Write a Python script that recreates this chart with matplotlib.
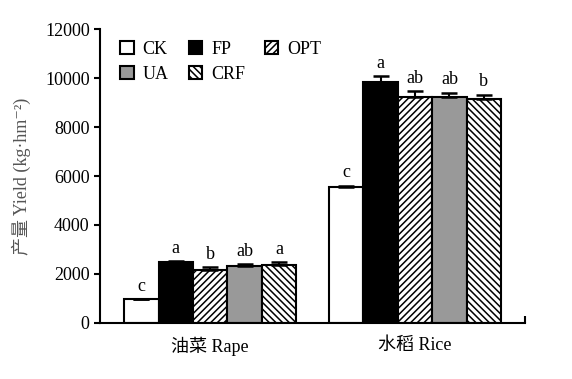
import matplotlib.pyplot as plt
import numpy as np
from matplotlib.patches import Patch

plt.rcParams['font.family'] = ['Liberation Serif', 'Noto Sans CJK SC', 'DejaVu Sans']
plt.rcParams['hatch.linewidth'] = 1.1
plt.rcParams['font.size'] = 13

crops = ['油菜 Rape', '水稻 Rice']
treatments = ['CK', 'FP', 'OPT', 'UA', 'CRF']
yields = {
    'CK': [970, 5540],
    'FP': [2490, 9840],
    'OPT': [2170, 9210],
    'UA': [2330, 9240],
    'CRF': [2380, 9155],
}
errors = {
    'CK': [0, 70],
    'FP': [40, 240],
    'OPT': [110, 250],
    'UA': [70, 160],
    'CRF': [100, 160],
}
letters = {
    'CK': ['c', 'c'],
    'FP': ['a', 'a'],
    'OPT': ['b', 'ab'],
    'UA': ['ab', 'ab'],
    'CRF': ['a', 'b'],
}

styles = {
    'CK': dict(color='white', hatch=None),
    'FP': dict(color='black', hatch=None),
    'OPT': dict(color='white', hatch='/////'),
    'UA': dict(color='#999999', hatch=None),
    'CRF': dict(color='white', hatch='\\\\\\\\\\'),
}

fig = plt.figure(figsize=(5.72, 3.79), dpi=100)
ax = fig.add_axes([0.175, 0.148, 0.743, 0.775])

x = np.arange(len(crops))
width = 0.168
handles = {}
for i, t in enumerate(treatments):
    pos = x + (i - 2) * width
    st = styles[t]
    ax.bar(pos, yields[t], width, color=st['color'], hatch=st['hatch'],
           edgecolor='black', linewidth=1.5, zorder=2)
    ax.errorbar(pos, yields[t], yerr=[np.zeros(2), errors[t]], fmt='none',
                ecolor='black', elinewidth=1.5, capsize=5.5, capthick=1.8, zorder=3)
    for p, v, e, lab in zip(pos, yields[t], errors[t], letters[t]):
        ax.text(p, v + e + 180, lab, ha='center', va='bottom', fontsize=13)
    handles[t] = Patch(facecolor=st['color'], hatch=st['hatch'], edgecolor='black',
                       linewidth=1.5, label=t)

order = ['CK', 'UA', 'FP', 'CRF', 'OPT']
ax.legend([handles[t] for t in order], order, ncol=3, frameon=False,
          loc='upper left', bbox_to_anchor=(0.03, 0.985), handlelength=0.75,
          handleheight=0.75, handletextpad=0.5, columnspacing=1.1,
          labelspacing=0.45, fontsize=13, borderaxespad=0)

ax.set_xlim(-0.537, 1.537)
ax.set_ylim(0, 12000)
ax.set_yticks(np.arange(0, 12001, 2000))
ax.set_xticks(x)
ax.set_xticklabels(crops, fontsize=13)
ax.tick_params(axis='x', length=0, pad=10)
ax.set_xticks([1.537], minor=True)
ax.tick_params(axis='x', which='minor', direction='in', length=5, width=1.5)
ax.tick_params(axis='y', direction='out', length=4, width=1.5, labelsize=13)
ax.set_ylabel('产量 Yield (kg·hm⁻²)', fontsize=13, color='#555555', labelpad=10)

ax.spines['top'].set_visible(False)
ax.spines['right'].set_visible(False)
for s in ['left', 'bottom']:
    ax.spines[s].set_linewidth(1.5)

fig.savefig('out.png', dpi=100)
